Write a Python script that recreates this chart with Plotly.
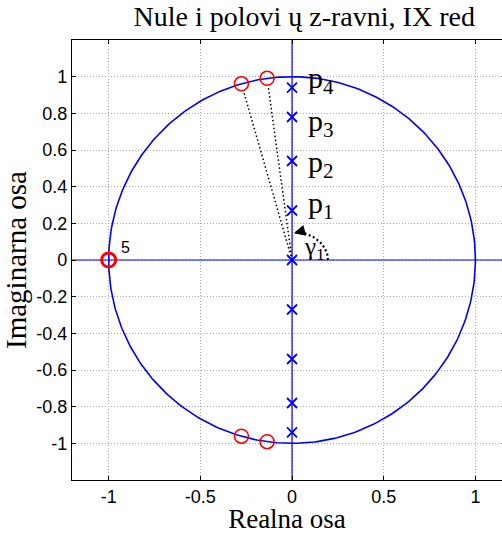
import numpy as np
import plotly.graph_objects as go

# Poles (all on the imaginary axis) and zeros of the 9th-order filter
pole_re = [0, 0, 0, 0, 0, 0, 0, 0, 0]
pole_im = [0, 0.27, 0.54, 0.78, 0.94, -0.27, -0.54, -0.78, -0.94]
zero_re = [-1, -0.276, -0.136, -0.276, -0.136]
zero_im = [0, 0.961, 0.991, -0.961, -0.991]
zero_mult_label = "5"
pole_labels = ["p<sub>1</sub>", "p<sub>2</sub>", "p<sub>3</sub>", "p<sub>4</sub>"]
pole_label_y = [0.30, 0.525, 0.745, 0.98]
x_ticks = [-1, -0.5, 0, 0.5, 1]
y_ticks = [-1, -0.8, -0.6, -0.4, -0.2, 0, 0.2, 0.4, 0.6, 0.8, 1]

BLUE = "#0000ff"
RED = "#ff0000"
SERIF = "Liberation Serif, Times New Roman, serif"
SANS = "Liberation Sans, Arial, sans-serif"
GRID_DASH = "1px,2px"

fig = go.Figure()

# real and imaginary axes drawn in blue
fig.add_trace(go.Scatter(x=[-1.2, 1.2], y=[0, 0], mode="lines",
                         line=dict(color=BLUE, width=1.2), hoverinfo="skip"))
fig.add_trace(go.Scatter(x=[0, 0], y=[-1.2, 1.2], mode="lines",
                         line=dict(color=BLUE, width=1.2), hoverinfo="skip"))

# unit circle
t = np.linspace(0, 2 * np.pi, 400)
fig.add_trace(go.Scatter(x=np.cos(t), y=np.sin(t), mode="lines",
                         line=dict(color=BLUE, width=1.6), hoverinfo="skip"))

# dotted rays from the origin to the upper zeros
for zr, zi in zip(zero_re[1:3], zero_im[1:3]):
    fig.add_trace(go.Scatter(x=[0, zr * 0.96], y=[0, zi * 0.96], mode="lines",
                             line=dict(color="black", width=1.5, dash="1.5px,2.5px"),
                             hoverinfo="skip"))

# angle arc gamma_1
a = np.linspace(0, np.deg2rad(84), 60)
arc_x = 0.196 * np.cos(a)
arc_y = 0.155 * np.sin(a)
fig.add_trace(go.Scatter(x=arc_x, y=arc_y, mode="lines",
                         line=dict(color="black", width=2.2, dash="2px,2.5px"),
                         hoverinfo="skip"))
fig.add_annotation(x=0.01, y=0.146, ax=0.04, ay=0.154, xref="x", yref="y",
                   axref="x", ayref="y", text="", showarrow=True,
                   arrowhead=2, arrowsize=1.5, arrowwidth=1.5, arrowcolor="black")

# poles
fig.add_trace(go.Scatter(x=pole_re, y=pole_im, mode="markers",
                         marker=dict(symbol="x-thin", size=10, color=BLUE,
                                     line=dict(color=BLUE, width=1.8)),
                         hoverinfo="skip"))
# zeros
fig.add_trace(go.Scatter(x=zero_re, y=zero_im, mode="markers",
                         marker=dict(symbol="circle-open", size=14, color=RED,
                                     line=dict(color=RED, width=1.6)),
                         hoverinfo="skip"))
# repeated zero at z = -1 drawn thicker
fig.add_trace(go.Scatter(x=[zero_re[0]], y=[zero_im[0]], mode="markers",
                         marker=dict(symbol="circle-open", size=14, color=RED,
                                     line=dict(color=RED, width=3)),
                         hoverinfo="skip"))

fig.add_annotation(x=-0.945, y=0.07, text=zero_mult_label, showarrow=False,
                   xanchor="left", yanchor="middle",
                   font=dict(family=SANS, size=16, color="black"))

for lab, ly in zip(pole_labels, pole_label_y):
    fig.add_annotation(x=0.075, y=ly, text=lab, showarrow=False,
                       xanchor="left", yanchor="middle",
                       font=dict(family=SERIF, size=30, color="black"))

fig.add_annotation(x=0.055, y=0.065, text="γ<sub>1</sub>", showarrow=False,
                   xanchor="left", yanchor="middle",
                   font=dict(family=SERIF, size=25, color="black"))

fig.update_layout(
    width=502, height=534,
    margin=dict(l=72, r=0, t=40, b=54),
    paper_bgcolor="white", plot_bgcolor="white",
    showlegend=False,
    title=dict(text="Nule i polovi ų z-ravni, IX red", x=0.606, xanchor="center",
               y=0.988, yanchor="top",
               font=dict(family=SERIF, size=28, color="black")),
)
fig.update_xaxes(range=[-1.2, 1.145], tickvals=x_ticks,
                 ticktext=[f"{v:g}" for v in x_ticks],
                 showgrid=True, gridcolor="#a8a8a8", griddash=GRID_DASH, gridwidth=1,
                 zeroline=False, showline=True, linecolor="black", linewidth=1.2,
                 mirror="ticks", ticks="inside", ticklen=4, tickcolor="black",
                 tickfont=dict(family=SANS, size=18, color="black"),
                 title=dict(text="Realna osa", standoff=5,
                            font=dict(family=SERIF, size=27, color="black")))
fig.update_yaxes(range=[-1.2, 1.2], tickvals=y_ticks,
                 ticktext=[f"{v:g}" for v in y_ticks],
                 showgrid=True, gridcolor="#a8a8a8", griddash=GRID_DASH, gridwidth=1,
                 zeroline=False, showline=True, linecolor="black", linewidth=1.2,
                 ticks="inside", ticklen=4, tickcolor="black",
                 tickfont=dict(family=SANS, size=18, color="black"),
                 title=dict(text="Imaginarna osa", standoff=4,
                            font=dict(family=SERIF, size=29, color="black")))

fig.write_html("out.html")
